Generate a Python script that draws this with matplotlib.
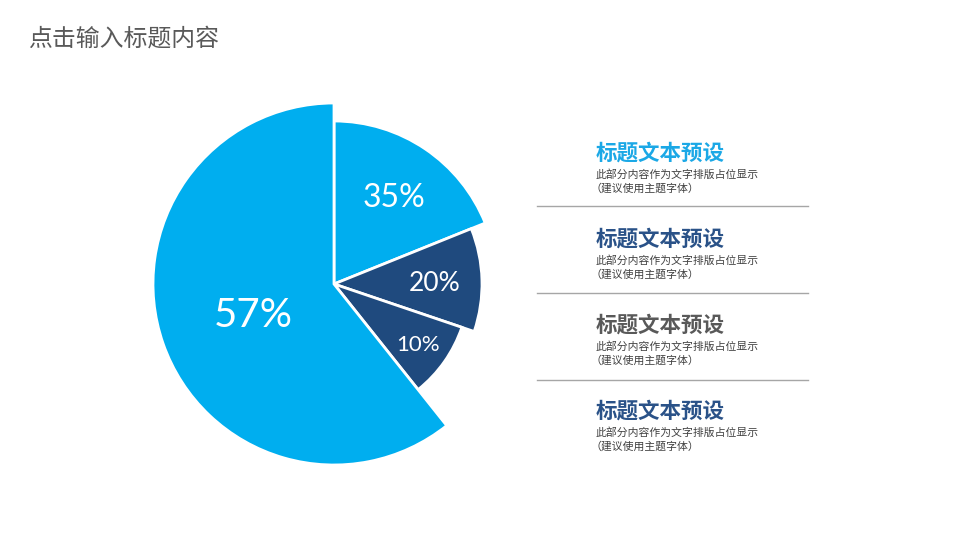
import matplotlib
matplotlib.use("Agg")
import matplotlib.pyplot as plt
import numpy as np

plt.rcParams['font.family'] = ['Noto Sans CJK SC', 'DejaVu Sans']

# slice data (angles do not follow the printed labels)
slice_labels = ["35%", "20%", "10%", "57%"]
slice_shares = [18.9, 11.3, 9.1, 60.7]        # share of the full circle
slice_radii = [163, 148, 135, 181]            # outer radius, pixels
slice_colors = ["#00AEEF", "#1F4A7E", "#1F4A7E", "#00AEEF"]
label_sizes = [23, 19, 16, 29]
label_radius = [0.66, 0.68, 0.76, 0.47]       # label position as fraction of radius

# text blocks on the right
block_titles = ["标题文本预设"] * 4
block_colors = ["#1BA8E6", "#2A5288", "#595959", "#2A5288"]
block_line1 = "此部分内容作为文字排版占位显示"
block_line2 = "（建议使用主题字体）"

W, H = 960, 540
fig = plt.figure(figsize=(9.6, 5.4), dpi=100)
fig.patch.set_facecolor("white")

fig.text(28 / W, 1 - 39 / H, "点击输入标题内容", fontsize=17.2, color="#595959",
         ha="left", va="center")

# pie axes: 1 data unit == 1 pixel, centred on (334, 284)
cx, cy, half = 334, 284, 200
ax = fig.add_axes([(cx - half) / W, (H - cy - half) / H, 2 * half / W, 2 * half / H])
wedges, _ = ax.pie(slice_shares, colors=slice_colors, startangle=90, counterclock=False,
                   radius=max(slice_radii),
                   wedgeprops=dict(edgecolor="white", linewidth=2))
for w, r, lab, fs, lr in zip(wedges, slice_radii, slice_labels, label_sizes, label_radius):
    w.set_radius(r)
    mid = np.deg2rad((w.theta1 + w.theta2) / 2)
    ax.text(r * lr * np.cos(mid), r * lr * np.sin(mid), lab, fontsize=fs, color="white",
            ha="center", va="center_baseline", family=["Lato", "DejaVu Sans"])
ax.set_xlim(-half, half)
ax.set_ylim(-half, half)
ax.set_aspect("equal")
ax.axis("off")

# right-hand text blocks and separators
title_y = [153, 239, 325, 411]
for ty, title, col in zip(title_y, block_titles, block_colors):
    fig.text(596 / W, 1 - ty / H, title, fontsize=15.5, fontweight="bold", color=col,
             ha="left", va="center")
    fig.text(596 / W, 1 - (ty + 21) / H, block_line1, fontsize=7.8, color="#404040",
             ha="left", va="center")
    fig.text(591 / W, 1 - (ty + 35) / H, block_line2, fontsize=7.8, color="#404040",
             ha="left", va="center")

for ly in [206, 293, 380]:
    fig.add_artist(plt.Line2D([537 / W, 808 / W], [1 - ly / H, 1 - ly / H],
                              color="#A6A6A6", linewidth=1))

fig.savefig("out.png", dpi=100)
